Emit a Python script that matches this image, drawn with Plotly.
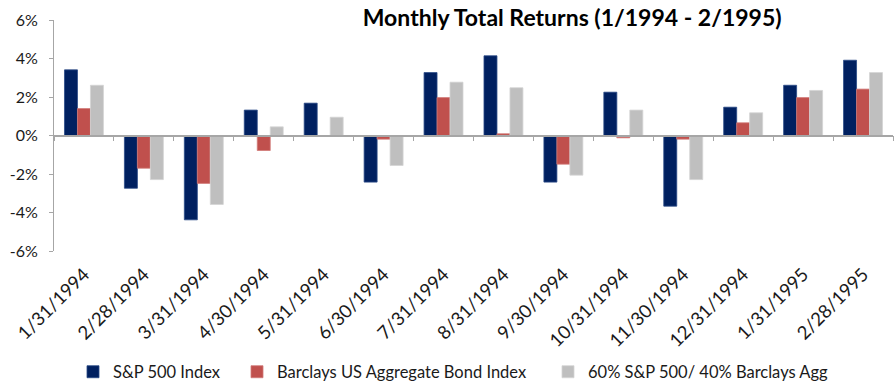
import plotly.graph_objects as go

months = ["1/31/1994", "2/28/1994", "3/31/1994", "4/30/1994", "5/31/1994",
          "6/30/1994", "7/31/1994", "8/31/1994", "9/30/1994", "10/31/1994",
          "11/30/1994", "12/31/1994", "1/31/1995", "2/28/1995"]

sp500 = [3.41, -2.74, -4.38, 1.32, 1.68, -2.42, 3.27, 4.14, -2.42, 2.25, -3.67, 1.47, 2.61, 3.91]
agg_bond = [1.40, -1.70, -2.49, -0.78, -0.03, -0.19, 1.97, 0.09, -1.49, -0.12, -0.19, 0.66, 1.97, 2.41]
mix_60_40 = [2.61, -2.29, -3.58, 0.45, 0.95, -1.56, 2.77, 2.48, -2.06, 1.32, -2.29, 1.18, 2.34, 3.27]

y_ticks = [-6, -4, -2, 0, 2, 4, 6]
y_tick_text = ["-6%", "-4%", "-2%", "0%", "2%", "4%", "6%"]

# name, values, fill, edge, legend id, legend left edge (px)
series = [
    ("S&P 500 Index", sp500, "#002060", "#2a4a86", "legend", 73),
    ("Barclays US Aggregate Bond Index", agg_bond, "#C0504D", "#d07a77", "legend2", 237),
    ("60% S&P 500/ 40% Barclays Agg", mix_60_40, "#BFBFBF", "#d4d4d4", "legend3", 548),
]

W, H = 894, 383
FONT = "Lato, 'Open Sans', sans-serif"
TEXT = "#1a1a1a"
AXIS_GREY = "#a6a6a6"

fig = go.Figure()
legends = {}
for name, vals, color, edge, leg, left_px in series:
    fig.add_trace(go.Bar(
        x=months, y=[v / 100 for v in vals], name=name, legend=leg,
        marker=dict(color=color, line=dict(color=edge, width=0.8)),
        hovertemplate="%{x}<br>%{y:.2%}<extra>" + name + "</extra>",
    ))
    legends[leg] = dict(
        orientation="h", xref="container", yref="container",
        x=left_px / W, xanchor="left", y=1 - 372 / H, yanchor="middle",
        font=dict(family=FONT, size=16.5, color=TEXT),
        itemwidth=30, bgcolor="rgba(0,0,0,0)",
    )

# invisible helper trace so the zero-line axis carries category boundaries
fig.add_trace(go.Scatter(
    x=months, y=[0] * len(months), xaxis="x2", mode="markers",
    marker=dict(opacity=0), showlegend=False, hoverinfo="skip",
))

fig.update_layout(
    width=W, height=H,
    margin=dict(l=54, r=1, t=20, b=132),
    paper_bgcolor="white", plot_bgcolor="white",
    font=dict(family=FONT, size=16, color=TEXT),
    title=dict(
        text="<b>Monthly Total Returns (1/1994 - 2/1995)</b>",
        x=0.64, xanchor="center", y=0.975, yanchor="top",
        font=dict(family=FONT, size=23, color="#000000"),
    ),
    barmode="group", bargap=0.35, bargroupgap=0.0,
    showlegend=True,
    xaxis=dict(
        type="category", range=[-0.5, len(months) - 0.5], automargin=False,
        showline=False, showgrid=False, ticks="", ticklabelstandoff=8,
        tickangle=-45, tickfont=dict(family=FONT, size=18.5, color=TEXT),
    ),
    xaxis2=dict(
        type="category", overlaying="x", anchor="free", position=0.5,
        range=[-0.5, len(months) - 0.5],
        showline=True, linecolor=AXIS_GREY, linewidth=1.5,
        ticks="outside", tickson="boundaries", ticklen=5, tickcolor=AXIS_GREY,
        showticklabels=False, showgrid=False,
    ),
    yaxis=dict(
        range=[-0.06, 0.06], tickvals=[v / 100 for v in y_ticks], ticktext=y_tick_text,
        automargin=False,
        showline=True, linecolor=AXIS_GREY, linewidth=1,
        ticks="outside", ticklen=4, tickcolor=AXIS_GREY,
        showgrid=False, zeroline=False, ticklabelstandoff=8,
        tickfont=dict(family=FONT, size=16, color=TEXT),
    ),
    **legends,
)

fig.write_html("out.html")
